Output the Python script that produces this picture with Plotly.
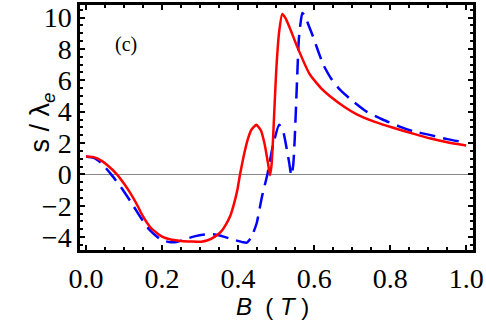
import plotly.graph_objects as go

# red solid curve
b_red = [0, 0.02, 0.04, 0.06, 0.081, 0.1, 0.114, 0.132, 0.149, 0.171, 0.2, 0.22,
         0.25, 0.28, 0.303, 0.32, 0.339, 0.355, 0.37, 0.38, 0.39, 0.398, 0.405,
         0.415, 0.425, 0.435, 0.448, 0.46, 0.47, 0.478, 0.484, 0.488, 0.492, 0.5,
         0.508, 0.516, 0.525, 0.535, 0.557, 0.588, 0.62, 0.641, 0.68, 0.711, 0.76,
         0.808, 0.86, 0.904, 0.95, 1.0]
s_red = [1.14, 1.1, 0.88, 0.5, 0.0, -0.6, -1.1, -1.84, -2.65, -3.43, -3.97, -4.14,
         -4.24, -4.28, -4.29, -4.2, -3.97, -3.65, -3.1, -2.6, -1.8, -1.0, 0.0,
         1.2, 2.2, 2.85, 3.16, 2.8, 1.9, 0.8, -0.05, 0.6, 2.3, 6.5,
         9.1, 10.22, 9.95, 9.4, 8.05, 6.4, 5.45, 5.0, 4.3, 3.85, 3.35,
         2.97, 2.6, 2.3, 2.05, 1.84]

# blue dashed curve
b_blue = [0, 0.02, 0.04, 0.066, 0.097, 0.123, 0.145, 0.167, 0.198, 0.224, 0.24,
          0.259, 0.285, 0.312, 0.33, 0.347, 0.366, 0.386, 0.413, 0.423, 0.435,
          0.449, 0.462, 0.47, 0.477, 0.492, 0.508, 0.518, 0.526, 0.534, 0.54,
          0.545, 0.549, 0.556, 0.56, 0.569, 0.576, 0.585, 0.597, 0.61, 0.624,
          0.645, 0.668, 0.7, 0.738, 0.78, 0.825, 0.86, 0.904, 0.95, 1.0]
s_blue = [1.14, 1.05, 0.72, 0.0, -0.99, -1.95, -2.8, -3.54, -4.18, -4.33, -4.3,
          -4.15, -3.95, -3.83, -3.8, -3.86, -4.0, -4.15, -4.33, -4.35, -4.0,
          -3.1, -1.5, -0.7, 0.0, 1.88, 3.16, 2.8, 1.88, 0.8, -0.07,
          0.6, 2.3, 6.56, 8.69, 10.29, 10.1, 9.54, 8.8, 7.9, 7.0,
          6.1, 5.4, 4.7, 4.0, 3.5, 3.05, 2.75, 2.52, 2.25, 2.03]

x_ticks = [0.0, 0.2, 0.4, 0.6, 0.8, 1.0]
y_ticks = [-4, -2, 0, 2, 4, 6, 8, 10]

SERIF = 'Liberation Serif'

fig = go.Figure()
fig.add_trace(go.Scatter(x=b_blue, y=s_blue, mode='lines',
                         line=dict(color='#0000ff', width=2.5, dash='16px,8px',
                                   shape='spline', smoothing=0.5)))
fig.add_trace(go.Scatter(x=b_red, y=s_red, mode='lines',
                         line=dict(color='#ff0000', width=2.5,
                                   shape='spline', smoothing=0.5)))

tickfont = dict(family=SERIF, size=28, color='black')
axis_common = dict(showline=True, linewidth=2.5, linecolor='black', mirror='allticks',
                   ticks='inside', ticklen=5, tickwidth=1.5, tickcolor='black',
                   showgrid=False, tickfont=tickfont, automargin=False)

fig.update_xaxes(range=[-0.016, 1.018], tickvals=x_ticks,
                 ticktext=[f'{v:.1f}' for v in x_ticks], zeroline=False,
                 minor=dict(dtick=0.05, ticks='inside', ticklen=3,
                            tickcolor='black', tickwidth=1.5),
                 ticklabelstandoff=2, **axis_common)
fig.update_yaxes(range=[-4.82, 10.8], tickvals=y_ticks,
                 ticktext=[str(v).replace('-', '\u2212') for v in y_ticks],
                 zeroline=True, zerolinecolor='#888888', zerolinewidth=1,
                 minor=dict(dtick=0.5, ticks='inside', ticklen=3,
                            tickcolor='black', tickwidth=1.5),
                 ticklabelstandoff=0, **axis_common)

fig.add_annotation(x=0.104, y=8.26, text='(c)', showarrow=False,
                   font=dict(family=SERIF, size=20, color='black'))
fig.add_annotation(xref='paper', yref='paper', x=0.49, y=-0.172, yanchor='top',
                   text='<i>B</i>  ( <i>T</i> )', showarrow=False, borderpad=0,
                   font=dict(family='Liberation Sans', size=24, color='black'))
fig.add_annotation(xref='paper', x=-0.145, yref='paper', y=0.52, textangle=-90,
                   text='s / λ<sub><i>e</i></sub>', showarrow=False,
                   font=dict(family='Liberation Sans', size=27, color='black'))

fig.update_layout(width=486, height=322, showlegend=False,
                  margin=dict(l=80, r=13, t=5, b=72),
                  plot_bgcolor='white', paper_bgcolor='white')

fig.write_html("out.html", config={'displayModeBar': False},
               post_script="document.body.style.margin='0';")
